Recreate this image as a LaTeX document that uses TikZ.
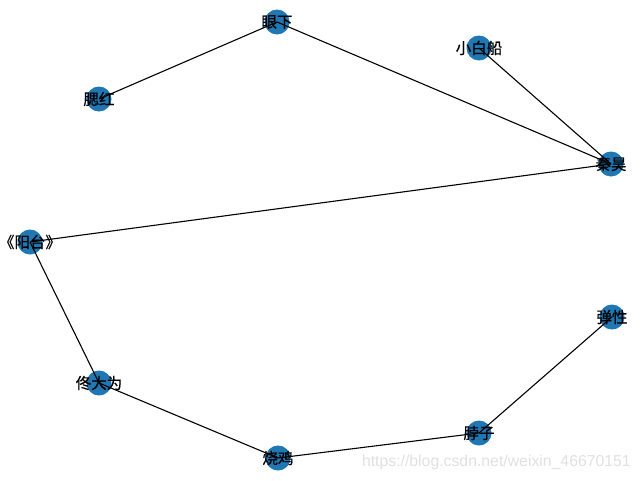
\documentclass[tikz,border=0pt]{standalone}
\usepackage{fontspec}
\setmainfont{Liberation Sans}
\newfontfamily\cjk[FakeBold=0.6]{Noto Sans CJK SC}
\definecolor{nodeblue}{HTML}{1F78B4}
\begin{document}
\begin{tikzpicture}[x=1pt,y=-1pt,
  vtx/.style={circle,fill=nodeblue,draw=none,minimum size=25pt,inner sep=0pt},
  lbl/.style={font=\cjk\fontsize{15.5}{15.5}\selectfont,inner sep=0pt},
  edge/.style={draw=black,line width=1.1pt}]
\useasboundingbox (0,0) rectangle (640,480);
% node positions
\coordinate (pyx) at (277,22);
\coordinate (psh) at (99,99);
\coordinate (pxb) at (479,48);
\coordinate (pqh) at (611,164);
\coordinate (pyt) at (30,242);
\coordinate (ptd) at (99,383);
\coordinate (psj) at (278,458);
\coordinate (pbz) at (479,433);
\coordinate (ptx) at (612,317);
% circles
\foreach \p in {pyx,psh,pxb,pqh,pyt,ptd,psj,pbz,ptx}{\node[vtx] (c\p) at (\p) {};}
% edges
\draw[edge] (psh) -- (pyx);
\draw[edge] (pyx) -- (pqh);
\draw[edge] (pxb) -- (pqh);
\draw[edge] (pqh) -- (pyt);
\draw[edge] (pyt) -- (ptd);
\draw[edge] (ptd) -- (psj);
\draw[edge] (psj) -- (pbz);
\draw[edge] (pbz) -- (ptx);
% labels
\node[lbl] (yx) at (pyx) {眼下};
\node[lbl] (sh) at (psh) {腮红};
\node[lbl] (xb) at (pxb) {小白船};
\node[lbl] (qh) at (pqh) {秦昊};
\node[lbl] (yt) at (pyt) {《阳台》};
\node[lbl] (td) at (ptd) {佟大为};
\node[lbl] (sj) at (psj) {烧鸡};
\node[lbl] (bz) at (pbz) {脖子};
\node[lbl] (tx) at (ptx) {弹性};
% watermark
\node[font=\fontsize{15.8}{15.8}\selectfont,text=black!12,anchor=east,inner sep=0pt] (wm) at (631,462) {https://blog.csdn.net/weixin\_46670151};
\end{tikzpicture}
\end{document}
